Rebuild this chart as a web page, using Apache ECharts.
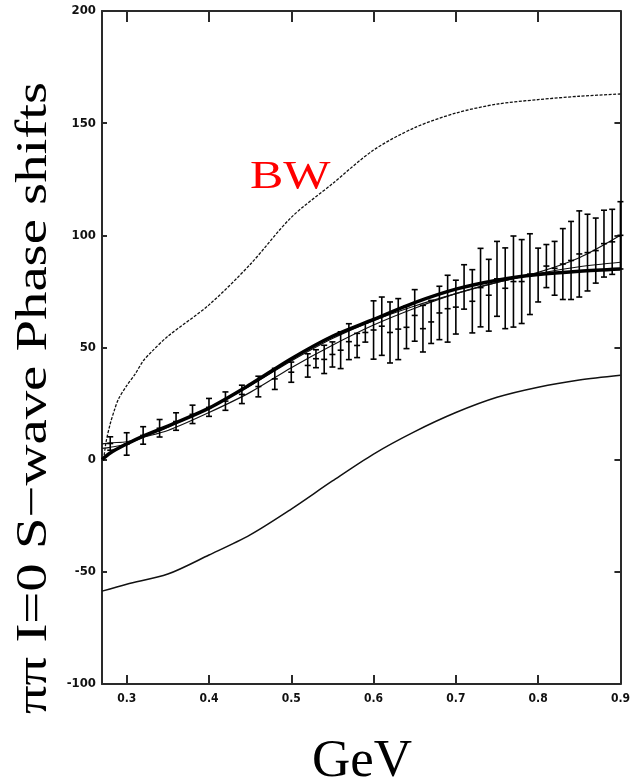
<!DOCTYPE html>
<html>
<head>
<meta charset="utf-8">
<script src="https://cdn.jsdelivr.net/npm/echarts@6/dist/echarts.min.js"></script>
<style>
html,body{margin:0;padding:0;background:#fff;}
#c{width:633px;height:783px;}
</style>
</head>
<body>
<div id="c"></div>
<script>
// ---- data ----
var xTicks = [0.3, 0.4, 0.5, 0.6, 0.7, 0.8, 0.9];
var yTicks = [-100, -50, 0, 50, 100, 150, 200];

var bwX = [0.272, 0.275, 0.28, 0.285, 0.29, 0.30, 0.31, 0.32, 0.33, 0.35, 0.40, 0.45, 0.50, 0.55, 0.60, 0.65, 0.70, 0.75, 0.80, 0.85, 0.90];
var bwY = [0, 8, 16, 22, 27, 33, 38, 44, 48, 55, 69, 87, 108, 123, 138, 148, 154.5, 158.5, 160.5, 162, 163];

var lowX = [0.27, 0.30, 0.35, 0.40, 0.45, 0.50, 0.55, 0.60, 0.65, 0.70, 0.75, 0.80, 0.85, 0.90];
var lowY = [-58.6, -55.5, -51, -42.5, -33.5, -22, -9.5, 2.5, 12.5, 21, 27.8, 32.3, 35.5, 37.6];

var fitX = [0.27, 0.28, 0.30, 0.32, 0.35, 0.40, 0.45, 0.50, 0.55, 0.60, 0.65, 0.70, 0.75, 0.80, 0.85, 0.90];
var fitThick = [0, 3, 7, 10.5, 15, 23, 33.5, 45, 55, 62.5, 70, 76, 80, 82.5, 84, 85];
var fitThinA = [7, 7.5, 8, 10, 13, 21, 30, 41, 51, 60, 67.5, 74, 79, 83, 86, 88];
var fitThinB = [5, 5.5, 7, 10, 14.5, 23, 33, 44, 54, 62, 68.5, 74, 79, 83.5, 90, 100];

var dataX = [0.28, 0.30, 0.32, 0.34, 0.36, 0.38, 0.40, 0.42, 0.44, 0.46, 0.48, 0.50, 0.52,
  0.53, 0.54, 0.55, 0.56, 0.57, 0.58, 0.59, 0.60, 0.61, 0.62, 0.63, 0.64, 0.65, 0.66, 0.67, 0.68, 0.69,
  0.70, 0.71, 0.72, 0.73, 0.74, 0.75, 0.76, 0.77, 0.78, 0.79, 0.80, 0.81, 0.82, 0.83, 0.84, 0.85, 0.86,
  0.87, 0.88, 0.89, 0.90];
var dataY = [7.2, 7, 10.8, 14, 17, 20.2, 23.3, 26.1, 29.1, 32.6, 36, 39, 42,
  45, 44.7, 46.9, 48.8, 52.6, 50.9, 56.7, 57.8, 59.5, 56.7, 58.2, 59, 64.3, 58.4, 61.4, 65.4, 67.3,
  68, 77, 70.6, 76.7, 73.3, 80.6, 76.4, 79.4, 79.4, 82.7, 82.3, 86.3, 85.3, 87.2, 88.8, 91.7, 92.3,
  93.2, 96.3, 97.1, 100];
var dataErr = [3, 5, 3.9, 3.9, 3.9, 4.1, 4, 4.1, 4.1, 4.6, 4.7, 4.5, 5.2,
  4, 6.3, 5.6, 8.2, 8, 5.4, 4.3, 13, 13, 13.6, 13.6, 9.5, 11.5, 10.4, 9.6, 11.9, 14.9,
  12, 9.9, 14.1, 17.5, 16, 16.7, 18, 20.3, 18.7, 18, 12, 9.6, 12, 15.8, 17.4, 19.2, 17.1,
  14.5, 14.9, 14.5, 15];

// ---- build chart ----
function zip(xs, ys) { return xs.map(function (x, i) { return [x, ys[i]]; }); }
var errData = dataX.map(function (x, i) {
  return [x, dataY[i], dataY[i] - dataErr[i], dataY[i] + dataErr[i]];
});

var axisCol = '#2a2a2a';
var labelFont = '"Liberation Sans Narrow", "DejaVu Sans Condensed", sans-serif';

var chart = echarts.init(document.getElementById('c'), null, { renderer: 'canvas' });
chart.setOption({
  animation: false,
  backgroundColor: '#fff',
  grid: { left: 102, top: 11, right: 8, bottom: 99, containLabel: false },
  xAxis: [{
    type: 'value', min: 0.27, max: 0.9, position: 'bottom',
    axisLine: { show: true, onZero: false, lineStyle: { color: axisCol, width: 2 } },
    axisTick: { show: true, inside: true, length: 9, customValues: xTicks, lineStyle: { color: axisCol, width: 2 } },
    axisLabel: { show: true, customValues: xTicks, margin: 9, color: '#111', fontSize: 12, fontWeight: 'bold', fontFamily: labelFont,
      formatter: function (v) { return v.toFixed(1); } },
    splitLine: { show: false }
  }, {
    type: 'value', min: 0.27, max: 0.9, position: 'top',
    axisLine: { show: true, onZero: false, lineStyle: { color: axisCol, width: 2 } },
    axisTick: { show: true, inside: true, length: 11, customValues: xTicks, lineStyle: { color: axisCol, width: 2 } },
    axisLabel: { show: false },
    splitLine: { show: false }
  }],
  yAxis: [{
    type: 'value', min: -100, max: 200, interval: 50, position: 'left',
    axisLine: { show: true, onZero: false, lineStyle: { color: axisCol, width: 2 } },
    axisTick: { show: true, inside: true, length: 5, lineStyle: { color: axisCol, width: 2 } },
    axisLabel: { show: true, margin: 6, color: '#111', fontSize: 13, fontWeight: 'bold', fontFamily: labelFont },
    splitLine: { show: false }
  }, {
    type: 'value', min: -100, max: 200, interval: 50, position: 'right',
    axisLine: { show: true, onZero: false, lineStyle: { color: axisCol, width: 2 } },
    axisTick: { show: true, inside: true, length: 6, lineStyle: { color: axisCol, width: 2 } },
    axisLabel: { show: false },
    splitLine: { show: false }
  }],
  series: [
    { type: 'line', name: 'BW', data: zip(bwX, bwY), smooth: 0.3, symbol: 'none',
      lineStyle: { color: '#111', width: 1.3, type: [3, 1.5] } },
    { type: 'line', name: 'lower', data: zip(lowX, lowY), smooth: 0.3, symbol: 'none',
      lineStyle: { color: '#111', width: 1.5 } },
    { type: 'line', name: 'thinA', data: zip(fitX, fitThinA), smooth: 0.3, symbol: 'none',
      lineStyle: { color: '#111', width: 1.2 } },
    { type: 'line', name: 'thinB', data: zip(fitX, fitThinB), smooth: 0.3, symbol: 'none',
      lineStyle: { color: '#111', width: 1.2 } },
    { type: 'line', name: 'thick', data: zip(fitX, fitThick), smooth: 0.3, symbol: 'none',
      lineStyle: { color: '#000', width: 3.5 } },
    { type: 'custom', name: 'data', data: errData,
      renderItem: function (params, api) {
        var x = api.value(0);
        var c = api.coord([x, api.value(1)]);
        var lo = api.coord([x, api.value(2)]);
        var hi = api.coord([x, api.value(3)]);
        var w = 3;
        var st = { stroke: '#000', lineWidth: 1.6 };
        return { type: 'group', children: [
          { type: 'line', shape: { x1: lo[0], y1: lo[1], x2: hi[0], y2: hi[1] }, style: st },
          { type: 'line', shape: { x1: lo[0] - w, y1: lo[1], x2: lo[0] + w, y2: lo[1] }, style: st },
          { type: 'line', shape: { x1: hi[0] - w, y1: hi[1], x2: hi[0] + w, y2: hi[1] }, style: st },
          { type: 'line', shape: { x1: c[0] - w, y1: c[1], x2: c[0] + w, y2: c[1] }, style: st }
        ] };
      },
      z: 5 }
  ],
  graphic: [
    { type: 'text', x: 34, y: 398, rotation: Math.PI / 2, scaleX: 1.29,
      style: { text: 'ππ I=0 S−wave Phase shifts', fill: '#000', font: '44px "Liberation Serif", serif',
        textAlign: 'center', textVerticalAlign: 'middle' } },
    { type: 'text', x: 362, y: 762,
      style: { text: 'GeV', fill: '#000', font: '53px "Liberation Serif", serif',
        textAlign: 'center', textVerticalAlign: 'middle' } },
    { type: 'text', x: 250, y: 177, scaleX: 1.22,
      style: { text: 'BW', fill: '#ff0000', font: '41px "Liberation Serif", serif',
        textAlign: 'left', textVerticalAlign: 'middle' } }
  ]
});
</script>
</body>
</html>
